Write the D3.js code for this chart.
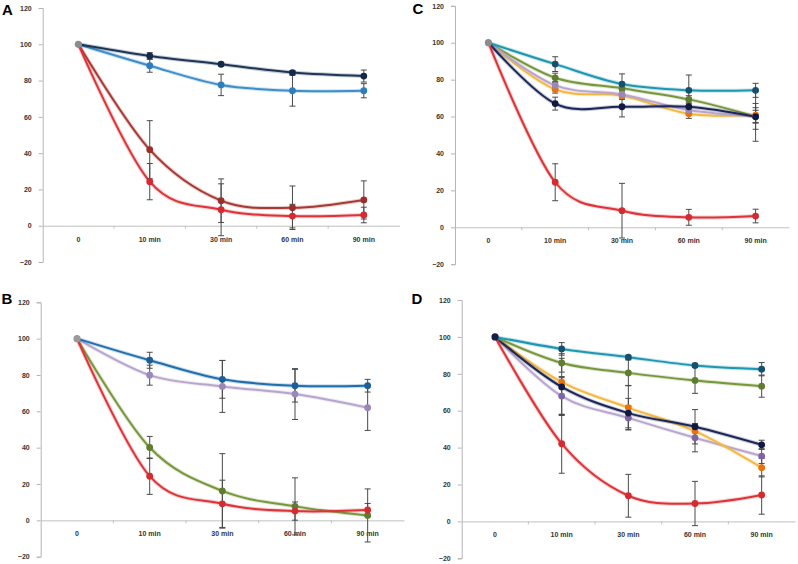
<!DOCTYPE html>
<html><head><meta charset="utf-8">
<script src="https://cdn.jsdelivr.net/npm/d3@7"></script>
<style>body{margin:0;background:#fff}svg{display:block}text{-webkit-font-smoothing:antialiased}</style>
</head><body>
<svg id="chart" width="798" height="564"></svg>
<script>
// ---- data ----
const categories = ["0", "10 min", "30 min", "60 min", "90 min"];
const yTicks = [-20, 0, 20, 40, 60, 80, 100, 120];
const panelLabels = ["A", "B", "C", "D"];

// Panel A
const aNavy = [100, 93.6, 89.0, 84.4, 82.5];   const aNavyErr = [0, 1.8, 1.0, 1.0, 3.3];
const aBlue = [100, 88.2, 77.6, 74.4, 74.4];   const aBlueErr = [0, 3.6, 5.9, 8.5, 3.9];
const aBrown = [100, 41.9, 13.8, 9.9, 14.2];   const aBrownErr = [0, 16, 12, 12, 10.5];
const aRed = [100, 24.3, 8.8, 5.3, 5.9];       const aRedErr = [0, 10, 14.3, 6.5, 4.3];

// Panel B
const bBlue = [100, 88.1, 77.6, 74.1, 74.1];   const bBlueErr = [0, 4.4, 10.4, 9, 3.5];
const bLav = [100, 79.9, 73.7, 69.5, 62.0];    const bLavErr = [0, 5.5, 14.3, 14, 12.5];
const bGreen = [100, 40.1, 16.2, 7.7, 2.7];    const bGreenErr = [0, 6.1, 20.5, 15.7, 14.6];
const bRed = [100, 24.3, 9.1, 5.1, 5.7];       const bRedErr = [0, 10, 13, 5, 3.6];

// Panel C
const cTeal = [100, 88.4, 77.6, 74.2, 74.2];   const cTealErr = [0, 4, 5.5, 8.3, 3.8];
const cGreen = [100, 81.0, 75.3, 69.3, 60.1];  const cGreenErr = [0, 2.5, 2.5, 2, 7];
const cLav = [100, 76.9, 72.0, 63.5, 60.1];    const cLavErr = [0, 2, 2, 2.5, 13.5];
const cOrange = [100, 74.7, 71.3, 61.5, 60.8]; const cOrangeErr = [0, 2, 2, 2.5, 4];
const cNavy = [100, 67.0, 65.3, 65.3, 59.9];   const cNavyErr = [0, 3.5, 5.5, 2, 3.5];
const cRed = [100, 24.4, 9.0, 5.4, 6.1];       const cRedErr = [0, 10, 14.8, 4.3, 3.7];

// Panel D
const dTeal = [100, 93.5, 89.0, 84.5, 82.5];   const dTealErr = [0, 3.4, 1, 1, 3.6];
const dGreen = [100, 85.9, 80.5, 76.4, 73.3];  const dGreenErr = [0, 5, 7, 7, 6];
const dOrange = [100, 75.5, 61.7, 48.9, 29.1]; const dOrangeErr = [0, 3, 12, 4, 5];
const dNavy = [100, 72.9, 58.7, 51.3, 41.5];   const dNavyErr = [0, 15.5, 8, 9.3, 2.5];
const dLav = [100, 67.9, 56.1, 45.3, 35.4];    const dLavErr = [0, 10, 6.5, 7.6, 4];
const dRed = [100, 42.1, 13.9, 9.7, 14.3];     const dRedErr = [0, 16, 11.6, 12, 10.4];

// ---- styles ----
const C = {
  navy:   {line: "#1d3557", mark: "#15294a"},
  blueA:  {line: "#3d8ec9", mark: "#2f7dba"},
  brown:  {line: "#a83a35", mark: "#9a302c"},
  red:    {line: "#dc3439", mark: "#d42a30"},
  blueB:  {line: "#1f6fae", mark: "#1c5f98"},
  lav:    {line: "#b7a5cc", mark: "#9c87bb"},
  green:  {line: "#78973d", mark: "#5f7d2e"},
  teal:   {line: "#1e97b0", mark: "#174f6e"},
  orange: {line: "#f4b83f", mark: "#e8720e"},
  navy2:  {line: "#1c2659", mark: "#101a40"},
  lavD:   {line: "#b9a6cf", mark: "#7e64a3"}
};

const panels = [
  {label: "A", lx: 2, ly: 14.5, ax: 42.7, x1: 399.5, yTop: 8, yBot: 262, first: "#8c8c8c",
   series: [
     {v: aBlue, e: aBlueErr, c: C.blueA},
     {v: aNavy, e: aNavyErr, c: C.navy},
     {v: aBrown, e: aBrownErr, c: C.brown},
     {v: aRed, e: aRedErr, c: C.red}]},
  {label: "B", lx: 1.5, ly: 304, ax: 40.7, x1: 404, yTop: 302.3, yBot: 556.7, first: "#9a9a9a",
   series: [
     {v: bLav, e: bLavErr, c: C.lav},
     {v: bBlue, e: bBlueErr, c: C.blueB},
     {v: bGreen, e: bGreenErr, c: C.green},
     {v: bRed, e: bRedErr, c: C.red}]},
  {label: "C", lx: 412.5, ly: 13.5, ax: 455, x1: 789, yTop: 5.8, yBot: 264.2, first: "#8c8c8c",
   series: [
     {v: cGreen, e: cGreenErr, c: C.green},
     {v: cOrange, e: cOrangeErr, c: C.orange},
     {v: cLav, e: cLavErr, c: C.lav},
     {v: cTeal, e: cTealErr, c: C.teal},
     {v: cNavy, e: cNavyErr, c: C.navy2},
     {v: cRed, e: cRedErr, c: C.red}]},
  {label: "D", lx: 411.5, ly: 304, ax: 461.7, x1: 795, yTop: 300, yBot: 558.3, first: "#15204a",
   series: [
     {v: dLav, e: dLavErr, c: C.lavD},
     {v: dOrange, e: dOrangeErr, c: C.orange},
     {v: dNavy, e: dNavyErr, c: C.navy2},
     {v: dGreen, e: dGreenErr, c: C.green},
     {v: dTeal, e: dTealErr, c: C.teal},
     {v: dRed, e: dRedErr, c: C.red}]}
];

const svg = d3.select("#chart");
const font = "'Liberation Sans', Arial, sans-serif";

panels.forEach(p => {
  const g = svg.append("g");
  const x = d3.scaleBand().domain(categories).range([p.ax, p.x1]);
  const y = d3.scaleLinear().domain([-20, 120]).range([p.yBot, p.yTop]);
  const cx = d => x(d) + x.bandwidth() / 2;

  // panel letter
  g.append("text").attr("x", p.lx).attr("y", p.ly).text(p.label)
    .attr("font-family", font).attr("font-weight", "bold").attr("font-size", 15).attr("fill", "#000");

  // y axis
  const yAxis = d3.axisLeft(y).tickValues(yTicks).tickSize(4).tickPadding(7);
  const ya = g.append("g").attr("transform", `translate(${p.ax},0)`).call(yAxis);
  ya.select(".domain").attr("stroke", "#b5b5b5");
  ya.selectAll(".tick line").attr("stroke", "#b5b5b5");
  ya.selectAll("text").attr("font-family", font).attr("font-weight", "bold")
    .attr("font-size", 7).attr("fill", "#333").attr("opacity", 0.99);

  // x axis at y = 0
  const xAxis = d3.axisBottom(x).tickSize(0).tickPadding(11);
  const xa = g.append("g").attr("transform", `translate(0,${y(0)})`).call(xAxis);
  xa.select(".domain").attr("stroke", "#c0c0c0");
  xa.selectAll("text").attr("font-family", font).attr("font-weight", "bold")
    .attr("font-size", 7).attr("fill", "#333").attr("opacity", 0.99);
  // band boundary ticks
  g.selectAll(".bt").data(categories.slice(1)).enter().append("line")
    .attr("x1", d => x(d)).attr("x2", d => x(d))
    .attr("y1", y(0)).attr("y2", y(0) + 3)
    .attr("stroke", "#c0c0c0");

  const line = d3.line().x((d, i) => cx(categories[i])).y(d => y(d))
    .curve(d3.curveCardinal.tension(0));

  // lines with soft halo
  p.series.forEach(s => {
    g.append("path").datum(s.v).attr("d", line).attr("fill", "none")
      .attr("stroke", s.c.line).attr("stroke-opacity", 0.25).attr("stroke-width", 4);
    g.append("path").datum(s.v).attr("d", line).attr("fill", "none")
      .attr("stroke", s.c.line).attr("stroke-width", 2);
  });

  // error bars
  p.series.forEach(s => {
    s.v.forEach((v, i) => {
      const err = s.e[i];
      if (!err) return;
      const xx = cx(categories[i]);
      g.append("line").attr("x1", xx).attr("x2", xx).attr("y1", y(v - err)).attr("y2", y(v + err))
        .attr("stroke", "#4a4a4a").attr("stroke-width", 1);
      [v - err, v + err].forEach(t => {
        g.append("line").attr("x1", xx - 3).attr("x2", xx + 3).attr("y1", y(t)).attr("y2", y(t))
          .attr("stroke", "#4a4a4a").attr("stroke-width", 1);
      });
    });
  });

  // markers
  p.series.forEach(s => {
    g.selectAll(null).data(s.v.slice(1)).enter().append("circle")
      .attr("cx", (d, i) => cx(categories[i + 1])).attr("cy", d => y(d))
      .attr("r", 3.4).attr("fill", s.c.mark);
  });
  // shared first point
  g.append("circle").attr("cx", cx(categories[0])).attr("cy", y(p.series[0].v[0]))
    .attr("r", 3.6).attr("fill", p.first);
});
</script>
</body></html>
